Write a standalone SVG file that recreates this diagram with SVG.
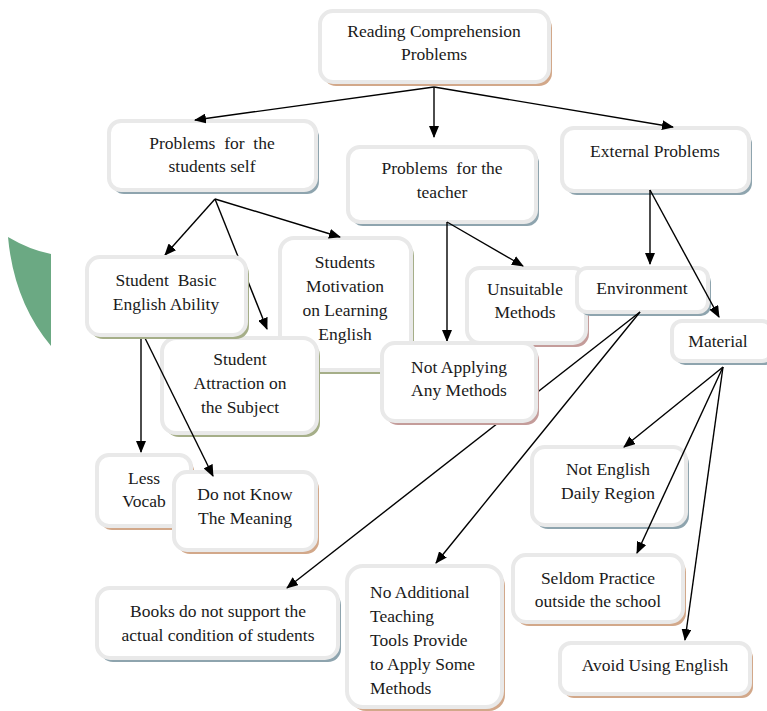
<svg xmlns="http://www.w3.org/2000/svg" width="767" height="711" viewBox="0 0 767 711">
<defs>
<marker id="arr" markerUnits="userSpaceOnUse" markerWidth="12" markerHeight="10" refX="11" refY="5" orient="auto">
<path d="M0,0 L12,5 L0,10 Z" fill="#000"/>
</marker>
<style>
.box{fill:#fff;stroke:#e9e9e9;stroke-width:4}
.tan{fill:#d2a88a}
.blu{fill:#8ea4ae}
.olv{fill:#a5ae88}
.pnk{fill:#c49c9a}
text{font-family:"Liberation Serif","Times New Roman",serif;font-size:17.5px;fill:#1a1a1a;text-anchor:middle}
.l{text-anchor:start}
.c path, .c line{stroke:#000;stroke-width:1.4;fill:none;marker-end:url(#arr)}
</style>
</defs>
<rect width="767" height="711" fill="#fff"/>
<path d="M8 237 Q30 250 51 254 L51 346 Q14 302 8 237 Z" fill="#6ba983"/>

<g id="root"><rect class="tan" x="323" y="15" width="229" height="71" rx="13"/><rect class="box" x="320" y="11" width="229" height="71" rx="13"/><text x="434" y="37">Reading Comprehension</text><text x="434" y="60">Problems</text></g>
<g id="self"><rect class="blu" x="112" y="125" width="207" height="69" rx="12"/><rect class="box" x="109" y="121" width="207" height="69" rx="12"/><text x="212" y="149" xml:space="preserve">Problems  for  the</text><text x="212" y="172">students self</text></g>
<g id="teacher"><rect class="blu" x="351" y="151" width="188" height="75" rx="12"/><rect class="box" x="348" y="147" width="188" height="75" rx="12"/><text x="442" y="174" xml:space="preserve">Problems  for the</text><text x="442" y="198">teacher</text></g>
<g id="external"><rect class="blu" x="565" y="132" width="187" height="63" rx="12"/><rect class="box" x="562" y="128" width="187" height="63" rx="12"/><text x="655" y="157">External Problems</text></g>
<g id="motivation"><rect class="olv" x="283" y="242" width="131" height="132" rx="14"/><rect class="box" x="280" y="238" width="131" height="132" rx="14"/><text x="345" y="268">Students</text><text x="345" y="292">Motivation</text><text x="345" y="316">on Learning</text><text x="345" y="340">English</text></g>
<g id="attraction"><rect class="olv" x="165" y="342" width="155" height="95" rx="14"/><rect class="box" x="162" y="338" width="155" height="95" rx="14"/><text x="240" y="365">Student</text><text x="240" y="389">Attraction on</text><text x="240" y="413">the Subject</text></g>
<g id="unsuitable"><rect class="pnk" x="470" y="272" width="119" height="75" rx="13"/><rect class="box" x="467" y="268" width="119" height="75" rx="13"/><text x="525" y="295">Unsuitable</text><text x="525" y="318">Methods</text></g>
<g id="environment"><rect class="blu" x="580" y="272" width="131" height="44" rx="10"/><rect class="box" x="577" y="268" width="131" height="44" rx="10"/><text x="642" y="294">Environment</text></g>
<g id="material"><rect class="blu" x="675" y="325" width="100" height="40" rx="10"/><rect class="box" x="672" y="321" width="100" height="40" rx="10"/><text x="718" y="347">Material</text></g>
<g id="lessvocab"><rect class="tan" x="100" y="459" width="94" height="71" rx="12"/><rect class="box" x="97" y="455" width="94" height="71" rx="12"/><text x="144" y="484">Less</text><text x="144" y="507">Vocab</text></g>
<g id="dontknow"><rect class="tan" x="177" y="476" width="142" height="78" rx="13"/><rect class="box" x="174" y="472" width="142" height="78" rx="13"/><text x="245" y="500">Do not Know</text><text x="245" y="524">The Meaning</text></g>
<g id="books"><rect class="blu" x="100" y="592" width="241" height="70" rx="13"/><rect class="box" x="97" y="588" width="241" height="70" rx="13"/><text x="218" y="617">Books do not support the</text><text x="218" y="641">actual condition of students</text></g>
<g id="noadditional"><rect class="tan" x="350" y="570" width="155" height="141" rx="16"/><rect class="box" x="347" y="566" width="155" height="141" rx="16"/><text class="l" x="370" y="598">No Additional</text><text class="l" x="370" y="622">Teaching</text><text class="l" x="370" y="646">Tools Provide</text><text class="l" x="370" y="670">to Apply Some</text><text class="l" x="370" y="694">Methods</text></g>
<g id="notenglish"><rect class="blu" x="535" y="451" width="154" height="78" rx="13"/><rect class="box" x="532" y="447" width="154" height="78" rx="13"/><text x="608" y="475">Not English</text><text x="608" y="499">Daily Region</text></g>
<g id="seldom"><rect class="tan" x="516" y="559" width="170" height="67" rx="13"/><rect class="box" x="513" y="555" width="170" height="67" rx="13"/><text x="598" y="584">Seldom Practice</text><text x="598" y="607">outside the school</text></g>
<g id="avoid"><rect class="tan" x="563" y="647" width="190" height="51" rx="11"/><rect class="box" x="560" y="643" width="190" height="51" rx="11"/><text x="655" y="671">Avoid Using English</text></g>

<g id="connectors" class="c">
<line x1="434" y1="87" x2="195" y2="120"/>
<line x1="434" y1="87" x2="434" y2="137"/>
<line x1="434" y1="87" x2="673" y2="127"/>
<line x1="215" y1="199" x2="165" y2="255"/>
<line x1="215" y1="199" x2="267" y2="329"/>
<line x1="215" y1="199" x2="340" y2="237"/>
<line x1="447" y1="222" x2="447" y2="341"/>
<line x1="447" y1="222" x2="523" y2="266"/>
<line x1="650" y1="190" x2="650" y2="264"/>
<line x1="650" y1="190" x2="719" y2="317"/>
<line x1="141" y1="334" x2="141" y2="452"/>
<line x1="143" y1="334" x2="213" y2="476"/>
<line x1="640" y1="312" x2="287" y2="588"/>
<line x1="640" y1="312" x2="436" y2="563"/>
<line x1="723" y1="367" x2="624" y2="447"/>
<line x1="723" y1="367" x2="637" y2="553"/>
<line x1="723" y1="367" x2="685" y2="640"/>
</g>

<g id="basic"><rect class="olv" x="90" y="261" width="159" height="78" rx="13"/><rect class="box" x="87" y="257" width="159" height="78" rx="13"/><text x="166" y="286" xml:space="preserve">Student  Basic</text><text x="166" y="310">English Ability</text></g>
<g id="notapplying"><rect class="pnk" x="385" y="347" width="154" height="78" rx="13"/><rect class="box" x="382" y="343" width="154" height="78" rx="13"/><text x="459" y="373">Not Applying</text><text x="459" y="396">Any Methods</text></g>
</svg>
